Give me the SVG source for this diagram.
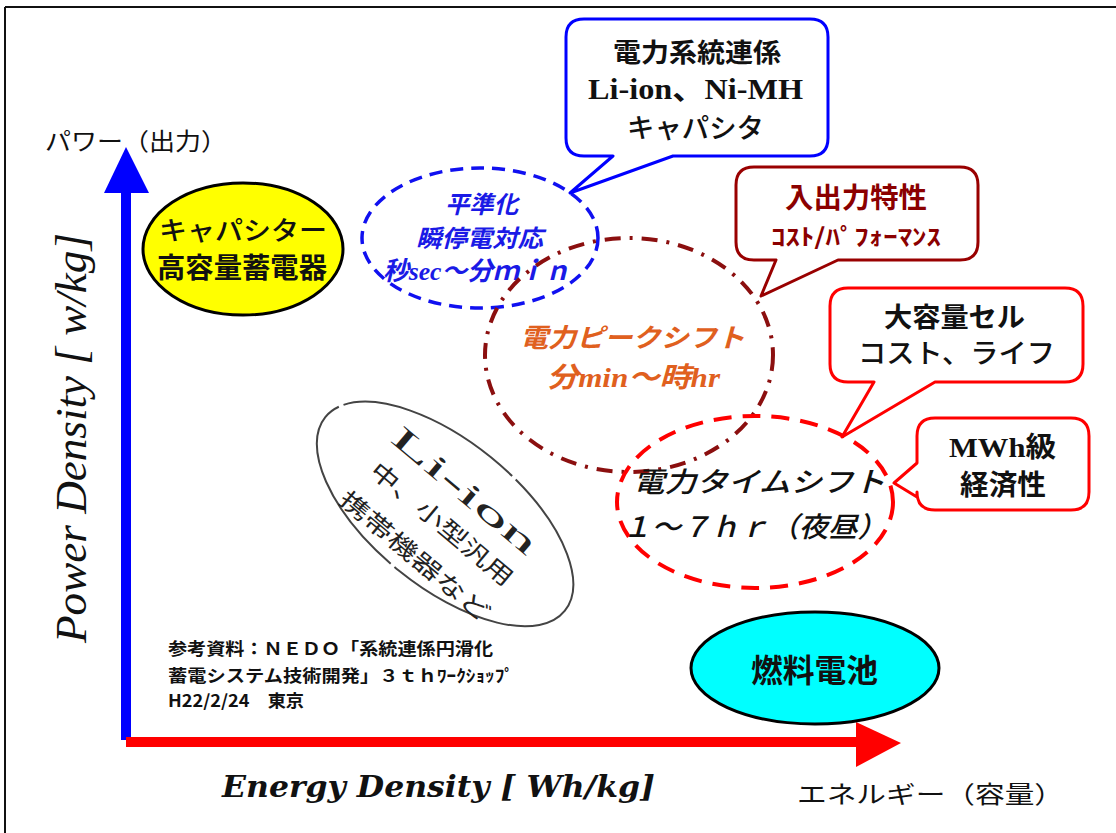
<svg xmlns="http://www.w3.org/2000/svg" width="1116" height="833" viewBox="0 0 1116 833">
<style>
.jp{font-family:"Noto Sans CJK JP",sans-serif}
.mix{font-family:"Liberation Serif","Noto Sans CJK JP",serif}
.b{font-weight:700}
.it{font-style:italic}
.co{fill:#fff;stroke-width:3;stroke-linejoin:round}
.ax{font-family:"Noto Sans CJK JP",sans-serif;font-size:24px;fill:#111}
</style>
<rect width="1116" height="833" fill="#fff"/>
<g id="frame" stroke="#111" stroke-width="2" fill="none">
<line x1="5" y1="7" x2="1116" y2="7"/>
<line x1="5" y1="7" x2="5" y2="833"/>
</g>
<g id="connectors">
<rect x="121" y="188" width="10" height="552" fill="#0000ff"/>
<polygon points="104,193 126,147 149,193" fill="#0000ff"/>
<rect x="126" y="737" width="734" height="10" fill="#ff0000"/>
<polygon points="856,722 901,743 856,767" fill="#ff0000"/>
</g>
<g id="axis-labels">
<text class="ax" x="45" y="150" textLength="182" lengthAdjust="spacingAndGlyphs">パワー（出力）</text>
<text class="ax" x="797" y="803" textLength="267" lengthAdjust="spacingAndGlyphs">エネルギー（容量）</text>
<text transform="translate(86,643) rotate(-90)" font-family="Liberation Serif,serif" font-style="italic" font-size="45" fill="#111" textLength="410" lengthAdjust="spacingAndGlyphs">Power Density [ w/kg]</text>
<text x="222" y="797" font-family="DejaVu Serif,serif" font-style="italic" font-weight="700" font-size="30" fill="#111" textLength="433" lengthAdjust="spacingAndGlyphs">Energy Density [ Wh/kg]</text>
</g>
<g id="capacitor">
<ellipse cx="243" cy="249" rx="100" ry="66" fill="#ffff00" stroke="#000" stroke-width="3"/>
<text class="jp" x="159" y="240" font-size="26" font-weight="500" fill="#111" textLength="168" lengthAdjust="spacingAndGlyphs">キャパシター</text>
<text class="jp b" x="157" y="278" font-size="28" fill="#111" textLength="170" lengthAdjust="spacingAndGlyphs">高容量蓄電器</text>
</g>
<g id="fuelcell">
<ellipse cx="815" cy="668" rx="124" ry="56" fill="#00ffff" stroke="#000" stroke-width="3"/>
<text class="jp b" x="751" y="682" font-size="32" fill="#111" textLength="127" lengthAdjust="spacingAndGlyphs">燃料電池</text>
</g>
<g id="liion">
<ellipse cx="445" cy="514" rx="154" ry="73" transform="rotate(39 445 514)" fill="none" stroke="#444" stroke-width="2" stroke-dasharray="190 5"/>
<g transform="translate(445,514) rotate(40)" fill="#222" text-anchor="middle">
<text x="0" y="-20" font-family="Liberation Serif,serif" font-size="32" textLength="180" lengthAdjust="spacingAndGlyphs">Li-ion</text>
<text class="jp" x="4" y="18" font-size="23" textLength="178" lengthAdjust="spacingAndGlyphs">中、小型汎用</text>
<text class="jp" x="4" y="60" font-size="23" textLength="188" lengthAdjust="spacingAndGlyphs">携帯機器など</text>
</g>
</g>
<g id="leveling">
<ellipse cx="480" cy="238" rx="118" ry="70" fill="none" stroke="#1010f0" stroke-width="3.5" stroke-dasharray="13 8"/>
<g class="jp b it" fill="#1a1ae6">
<text x="445" y="213" font-size="24" textLength="73" lengthAdjust="spacingAndGlyphs">平準化</text>
<text x="416" y="247" font-size="24" textLength="127" lengthAdjust="spacingAndGlyphs">瞬停電対応</text>
<text class="mix" x="383" y="280" font-size="26" textLength="187" lengthAdjust="spacingAndGlyphs">秒sec～分ｍｉｎ</text>
</g>
</g>
<g id="peakshift">
<ellipse cx="629" cy="355" rx="144" ry="117" fill="none" stroke="#8b0f0f" stroke-width="4" stroke-dasharray="16 9 3 9"/>
<g class="b it" fill="#e0601e">
<text class="jp" x="520" y="347" font-size="26" textLength="225" lengthAdjust="spacingAndGlyphs">電力ピークシフト</text>
<text class="mix" x="547" y="387" font-size="28" textLength="173" lengthAdjust="spacingAndGlyphs">分min～時hr</text>
</g>
</g>
<g id="timeshift">
<ellipse cx="755" cy="502" rx="138" ry="86" fill="none" stroke="#ff0000" stroke-width="4" stroke-dasharray="18 11"/>
<g class="jp it" fill="#111" font-weight="500">
<text x="633" y="492" font-size="28" textLength="252" lengthAdjust="spacingAndGlyphs">電力タイムシフト</text>
<text x="622" y="537" font-size="28" textLength="265" lengthAdjust="spacingAndGlyphs">１～７ｈｒ（夜昼）</text>
</g>
</g>
<g id="callout-grid">
<path class="co" stroke="#0000ff" d="M584,19 H810 Q828,19 828,37 V138 Q828,156 810,156 H673 L570,193 L613,156 H584 Q566,156 566,138 V37 Q566,19 584,19 Z"/>
<text class="jp b" x="613" y="62" font-size="26" fill="#111" textLength="168" lengthAdjust="spacingAndGlyphs">電力系統連係</text>
<text class="mix b" x="588" y="99" font-size="30" fill="#111" textLength="215" lengthAdjust="spacingAndGlyphs">Li-ion、Ni-MH</text>
<text class="jp" x="627" y="138" font-size="27" font-weight="500" fill="#111" textLength="137" lengthAdjust="spacingAndGlyphs">キャパシタ</text>
</g>
<g id="callout-io">
<path class="co" stroke="#990000" d="M754,167 H960 Q978,167 978,185 V242 Q978,260 960,260 H838 L761,296 L776,260 H754 Q736,260 736,242 V185 Q736,167 754,167 Z"/>
<text class="jp b" x="785" y="208" font-size="28" fill="#8b0000" textLength="142" lengthAdjust="spacingAndGlyphs">入出力特性</text>
<text class="jp b" x="771" y="245" font-size="23" fill="#8b0000" textLength="170" lengthAdjust="spacingAndGlyphs">ｺｽﾄ/ﾊﾟﾌｫｰﾏﾝｽ</text>
</g>
<g id="callout-cell">
<path class="co" stroke="#ff0000" d="M848,288 H1065 Q1083,288 1083,306 V364 Q1083,382 1065,382 H935 L842,437 L874,382 H848 Q830,382 830,364 V306 Q830,288 848,288 Z"/>
<text class="jp b" x="884" y="327" font-size="27" fill="#111" textLength="141" lengthAdjust="spacingAndGlyphs">大容量セル</text>
<text class="jp" x="858" y="363" font-size="27" font-weight="500" fill="#111" textLength="197" lengthAdjust="spacingAndGlyphs">コスト、ライフ</text>
</g>
<g id="callout-mwh">
<path class="co" stroke="#ff0000" d="M935,418 H1071 Q1089,418 1089,436 V492 Q1089,510 1071,510 H935 Q917,510 917,492 V497 L894,483 L917,463 V436 Q917,418 935,418 Z"/>
<text class="mix b" x="949" y="457" font-size="28" fill="#111" textLength="107" lengthAdjust="spacingAndGlyphs">MWh級</text>
<text class="jp b" x="960" y="495" font-size="28" fill="#111" textLength="86" lengthAdjust="spacingAndGlyphs">経済性</text>
</g>
<g id="reference" class="jp b" font-size="17" fill="#111">
<text x="168" y="655" textLength="325" lengthAdjust="spacingAndGlyphs">参考資料：ＮＥＤＯ「系統連係円滑化</text>
<text x="168" y="682" textLength="346" lengthAdjust="spacingAndGlyphs">蓄電システム技術開発」３ｔｈﾜｰｸｼｮｯﾌﾟ</text>
<text x="168" y="707" textLength="136" lengthAdjust="spacingAndGlyphs">H22/2/24　東京</text>
</g>
</svg>
